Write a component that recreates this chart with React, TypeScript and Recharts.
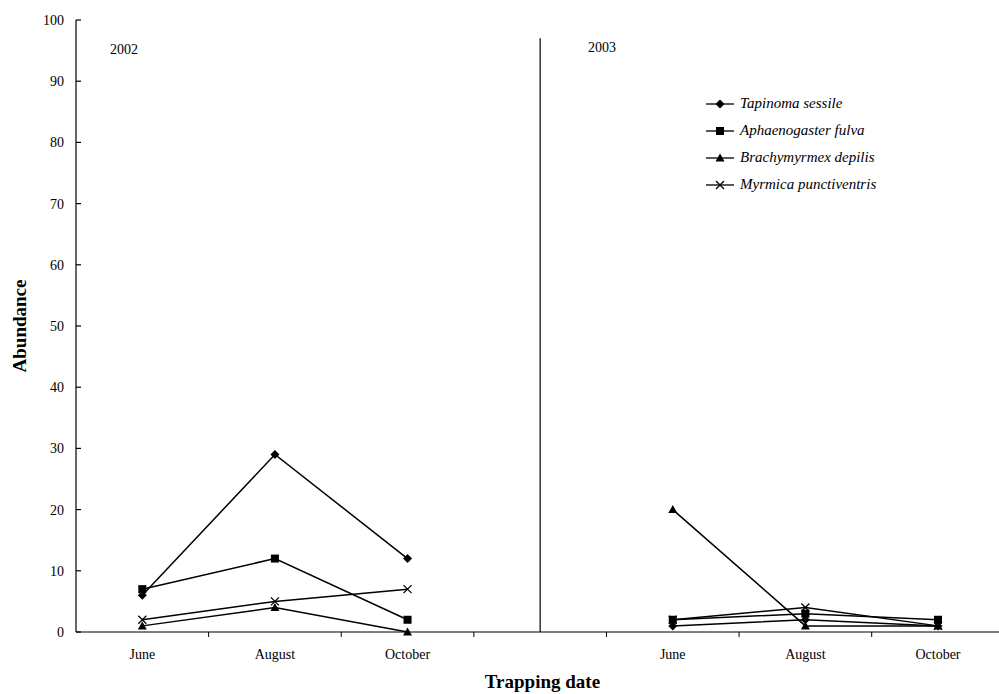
import { Line, LineChart, ReferenceLine, XAxis, YAxis } from "recharts";

const MONTHS = ["June", "August", "October", "", "June", "August", "October"];
const TAPINOMA = [6, 29, 12, null, 1, 2, 1];
const APHAENOGASTER = [7, 12, 2, null, 2, 3, 2];
const BRACHYMYRMEX = [1, 4, 0, null, 20, 1, 1];
const MYRMICA = [2, 5, 7, null, 2, 4, 1];
const Y_TICKS = [0, 10, 20, 30, 40, 50, 60, 70, 80, 90, 100];
const YEARS = ["2002", "2003"];

const SERIES = [
  { key: "tapinoma", name: "Tapinoma sessile", values: TAPINOMA, marker: "diamond" },
  { key: "aphaenogaster", name: "Aphaenogaster fulva", values: APHAENOGASTER, marker: "square" },
  { key: "brachymyrmex", name: "Brachymyrmex depilis", values: BRACHYMYRMEX, marker: "triangle" },
  { key: "myrmica", name: "Myrmica punctiventris", values: MYRMICA, marker: "cross" },
];

const data = MONTHS.map((m, i) => {
  const row: any = { x: i + 0.5, month: m };
  SERIES.forEach((s) => (row[s.key] = s.values[i]));
  return row;
});

const FONT = "'Liberation Serif', 'Times New Roman', serif";
const DOMAIN: [number, number] = [0, 6.96];

function Marker({ type, cx, cy }: { type: string; cx: number; cy: number }) {
  if (cx == null || cy == null) return null;
  if (type === "diamond") {
    const r = 4.5;
    return <path d={`M${cx},${cy - r}L${cx + r},${cy}L${cx},${cy + r}L${cx - r},${cy}Z`} fill="#000" />;
  }
  if (type === "square") {
    return <rect x={cx - 4} y={cy - 4} width={8} height={8} fill="#000" />;
  }
  if (type === "triangle") {
    return <path d={`M${cx},${cy - 4.5}L${cx + 4.5},${cy + 3.5}L${cx - 4.5},${cy + 3.5}Z`} fill="#000" />;
  }
  return (
    <path
      d={`M${cx - 4},${cy - 4}L${cx + 4},${cy + 4}M${cx + 4},${cy - 4}L${cx - 4},${cy + 4}`}
      stroke="#000"
      strokeWidth={1.3}
      fill="none"
    />
  );
}

function YTick(props: any) {
  const { x, y, payload } = props;
  return (
    <g>
      <line x1={x + 12} y1={y} x2={x + 17} y2={y} stroke="#000" strokeWidth={1.2} />
      <text x={x} y={y} dy={5} textAnchor="end" fontFamily={FONT} fontSize={14} fill="#000">
        {payload.value}
      </text>
    </g>
  );
}

function LegendBox() {
  return (
    <div style={{ fontFamily: FONT, fontStyle: "italic", fontSize: 15, color: "#000" }}>
      {SERIES.map((s) => (
        <div key={s.key} style={{ display: "flex", alignItems: "center", height: 27 }}>
          <svg width={34} height={14} style={{ marginRight: 2 }}>
            <line x1={2} y1={7} x2={30} y2={7} stroke="#000" strokeWidth={1.3} />
            <Marker type={s.marker} cx={16} cy={7} />
          </svg>
          {s.name}
        </div>
      ))}
    </div>
  );
}

export default function App() {
  return (
    <div style={{ position: "absolute", left: 0, top: 0, width: 999, height: 694, background: "#fff" }}>
      <LineChart width={999} height={694} data={data} margin={{ top: 20, right: 0, bottom: 0, left: 0 }}>
        <XAxis
          xAxisId="bounds"
          dataKey="x"
          type="number"
          domain={DOMAIN}
          ticks={[1, 2, 3, 4, 5, 6]}
          tickFormatter={() => ""}
          tickSize={5}
          height={5}
          stroke="#000"
          axisLine={{ stroke: "#000", strokeWidth: 1.2 }}
          tickLine={{ stroke: "#000", strokeWidth: 1 }}
          allowDataOverflow
        />
        <XAxis
          xAxisId="names"
          dataKey="x"
          type="number"
          domain={DOMAIN}
          ticks={[0.5, 1.5, 2.5, 4.5, 5.5, 6.5]}
          tickFormatter={(v: number) => MONTHS[Math.floor(v)]}
          axisLine={false}
          tickLine={false}
          tickSize={0}
          tickMargin={12}
          height={57}
          tick={{ fontFamily: FONT, fontSize: 14, fill: "#000" }}
          label={{
            value: "Trapping date",
            position: "insideBottom",
            offset: 6,
            dx: 5,
            style: { fontFamily: FONT, fontSize: 19, fontWeight: "bold", fill: "#000" },
          }}
          allowDataOverflow
        />
        <YAxis
          domain={[0, 100]}
          ticks={Y_TICKS}
          width={76}
          tickSize={0}
          tickMargin={12}
          tick={<YTick />}
          axisLine={{ stroke: "#000", strokeWidth: 1.2 }}
          label={{
            value: "Abundance",
            angle: -90,
            position: "insideLeft",
            offset: 19,
            style: { fontFamily: FONT, fontSize: 19, fontWeight: "bold", fill: "#000", textAnchor: "middle" },
          }}
        />
        <ReferenceLine
          xAxisId="names"
          segment={[
            { x: 3.5, y: 0 },
            { x: 3.5, y: 97 },
          ]}
          stroke="#000"
          strokeWidth={1.2}
        />
        {SERIES.map((s) => (
          <Line
            key={s.key}
            xAxisId="names"
            dataKey={s.key}
            name={s.name}
            stroke="#000"
            strokeWidth={1.5}
            isAnimationActive={false}
            connectNulls={false}
            dot={(p: any) => <Marker key={`${s.key}-${p.index}`} type={s.marker} cx={p.cx} cy={p.cy} />}
            activeDot={false}
          />
        ))}
      </LineChart>
      <div style={{ position: "absolute", left: 704, top: 90, width: 260 }}>
        <LegendBox />
      </div>
      <div style={{ position: "absolute", left: 110, top: 42, fontFamily: FONT, fontSize: 14 }}>{YEARS[0]}</div>
      <div style={{ position: "absolute", left: 588, top: 40, fontFamily: FONT, fontSize: 14 }}>{YEARS[1]}</div>
    </div>
  );
}
